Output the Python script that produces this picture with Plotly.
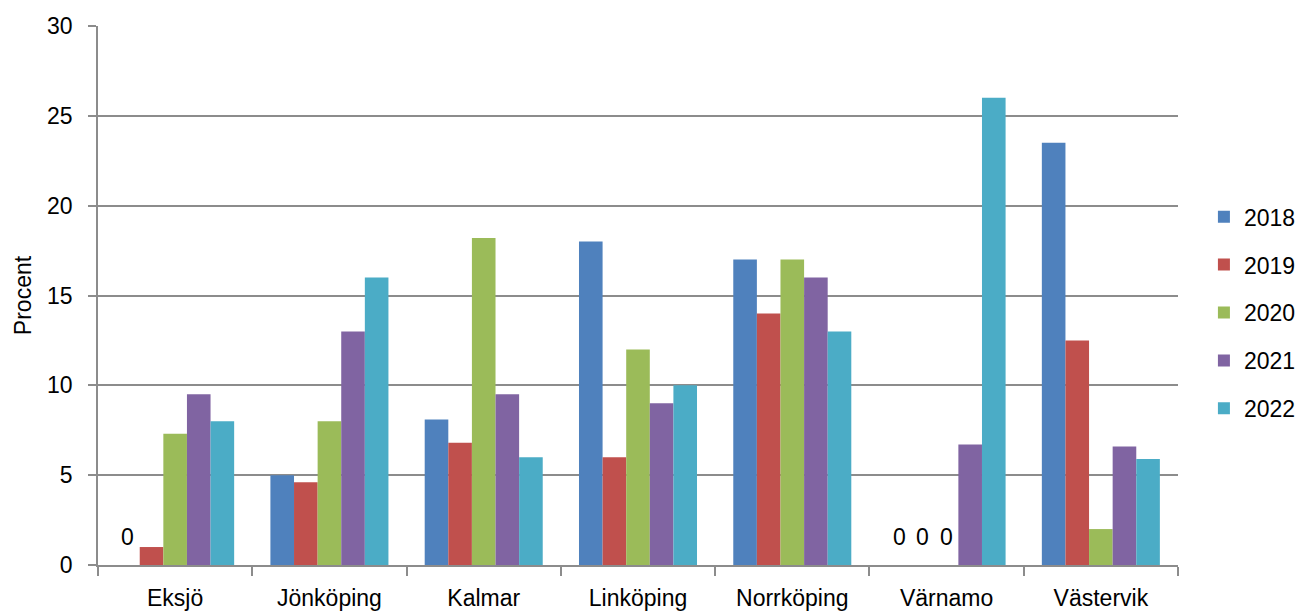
import plotly.graph_objects as go

# Andel (procent) per ort och år
orter = ["Eksjö", "Jönköping", "Kalmar", "Linköping", "Norrköping", "Värnamo", "Västervik"]
ar = ["2018", "2019", "2020", "2021", "2022"]

v2018 = [0, 5, 8.1, 18, 17, 0, 23.5]
v2019 = [1, 4.6, 6.8, 6, 14, 0, 12.5]
v2020 = [7.3, 8, 18.2, 12, 17, 0, 2]
v2021 = [9.5, 13, 9.5, 9, 16, 6.7, 6.6]
v2022 = [8, 16, 6, 10, 13, 26, 5.9]

y_ticks = [0, 5, 10, 15, 20, 25, 30]

serier = [v2018, v2019, v2020, v2021, v2022]
farger = ["#4F81BD", "#C0504D", "#9BBB59", "#8064A2", "#4BACC6"]

FONT = "Liberation Sans, Arial, sans-serif"
FS = 23
GRID = "#8c8c8c"
BARGAP = 0.235

fig = go.Figure()
for namn, varden, farg in zip(ar, serier, farger):
    fig.add_trace(go.Bar(
        x=orter, y=varden, name=namn,
        marker=dict(color=farg, line=dict(width=0)),
        legendgroup=namn,
    ))

# Etikett "0" för staplar med värdet noll
n = len(serier)
bredd = (1 - BARGAP) / n
for si, varden in enumerate(serier):
    for ci, v in enumerate(varden):
        if v == 0:
            fig.add_annotation(
                x=ci + (si - (n - 1) / 2) * bredd, y=v,
                xref="x", yref="y", text="0", showarrow=False,
                yanchor="middle", yshift=28,
                font=dict(family=FONT, size=FS, color="#000000"),
            )

fig.update_layout(
    width=1314, height=611,
    margin=dict(l=98, r=136, t=26, b=46),
    paper_bgcolor="white", plot_bgcolor="white",
    barmode="group", bargap=BARGAP, bargroupgap=0,
    font=dict(family=FONT, size=FS, color="#000000"),
    legend=dict(
        x=1.024, y=0.468, xanchor="left", yanchor="middle",
        font=dict(family=FONT, size=FS, color="#000000"),
        tracegroupgap=15, itemsizing="constant", itemwidth=30,
    ),
    showlegend=True,
)

fig.update_xaxes(
    type="category", automargin=False,
    showline=True, linecolor=GRID, linewidth=1.5,
    ticks="outside", tickson="boundaries", ticklen=9, tickcolor=GRID, tickwidth=1.5,
    showgrid=False, ticklabelstandoff=12,
    tickfont=dict(family=FONT, size=FS, color="#000000"),
)
fig.update_yaxes(
    range=[0, 30], tickvals=y_ticks, automargin=False,
    showline=True, linecolor=GRID, linewidth=1.5,
    ticks="outside", ticklen=8, tickcolor=GRID, tickwidth=1.5,
    showgrid=True, gridcolor=GRID, gridwidth=1.5,
    zeroline=False, ticklabelstandoff=11,
    tickfont=dict(family=FONT, size=FS, color="#000000"),
    title=dict(text="Procent", font=dict(family=FONT, size=FS, color="#000000"), standoff=9),
)

fig.write_html("out.html")
